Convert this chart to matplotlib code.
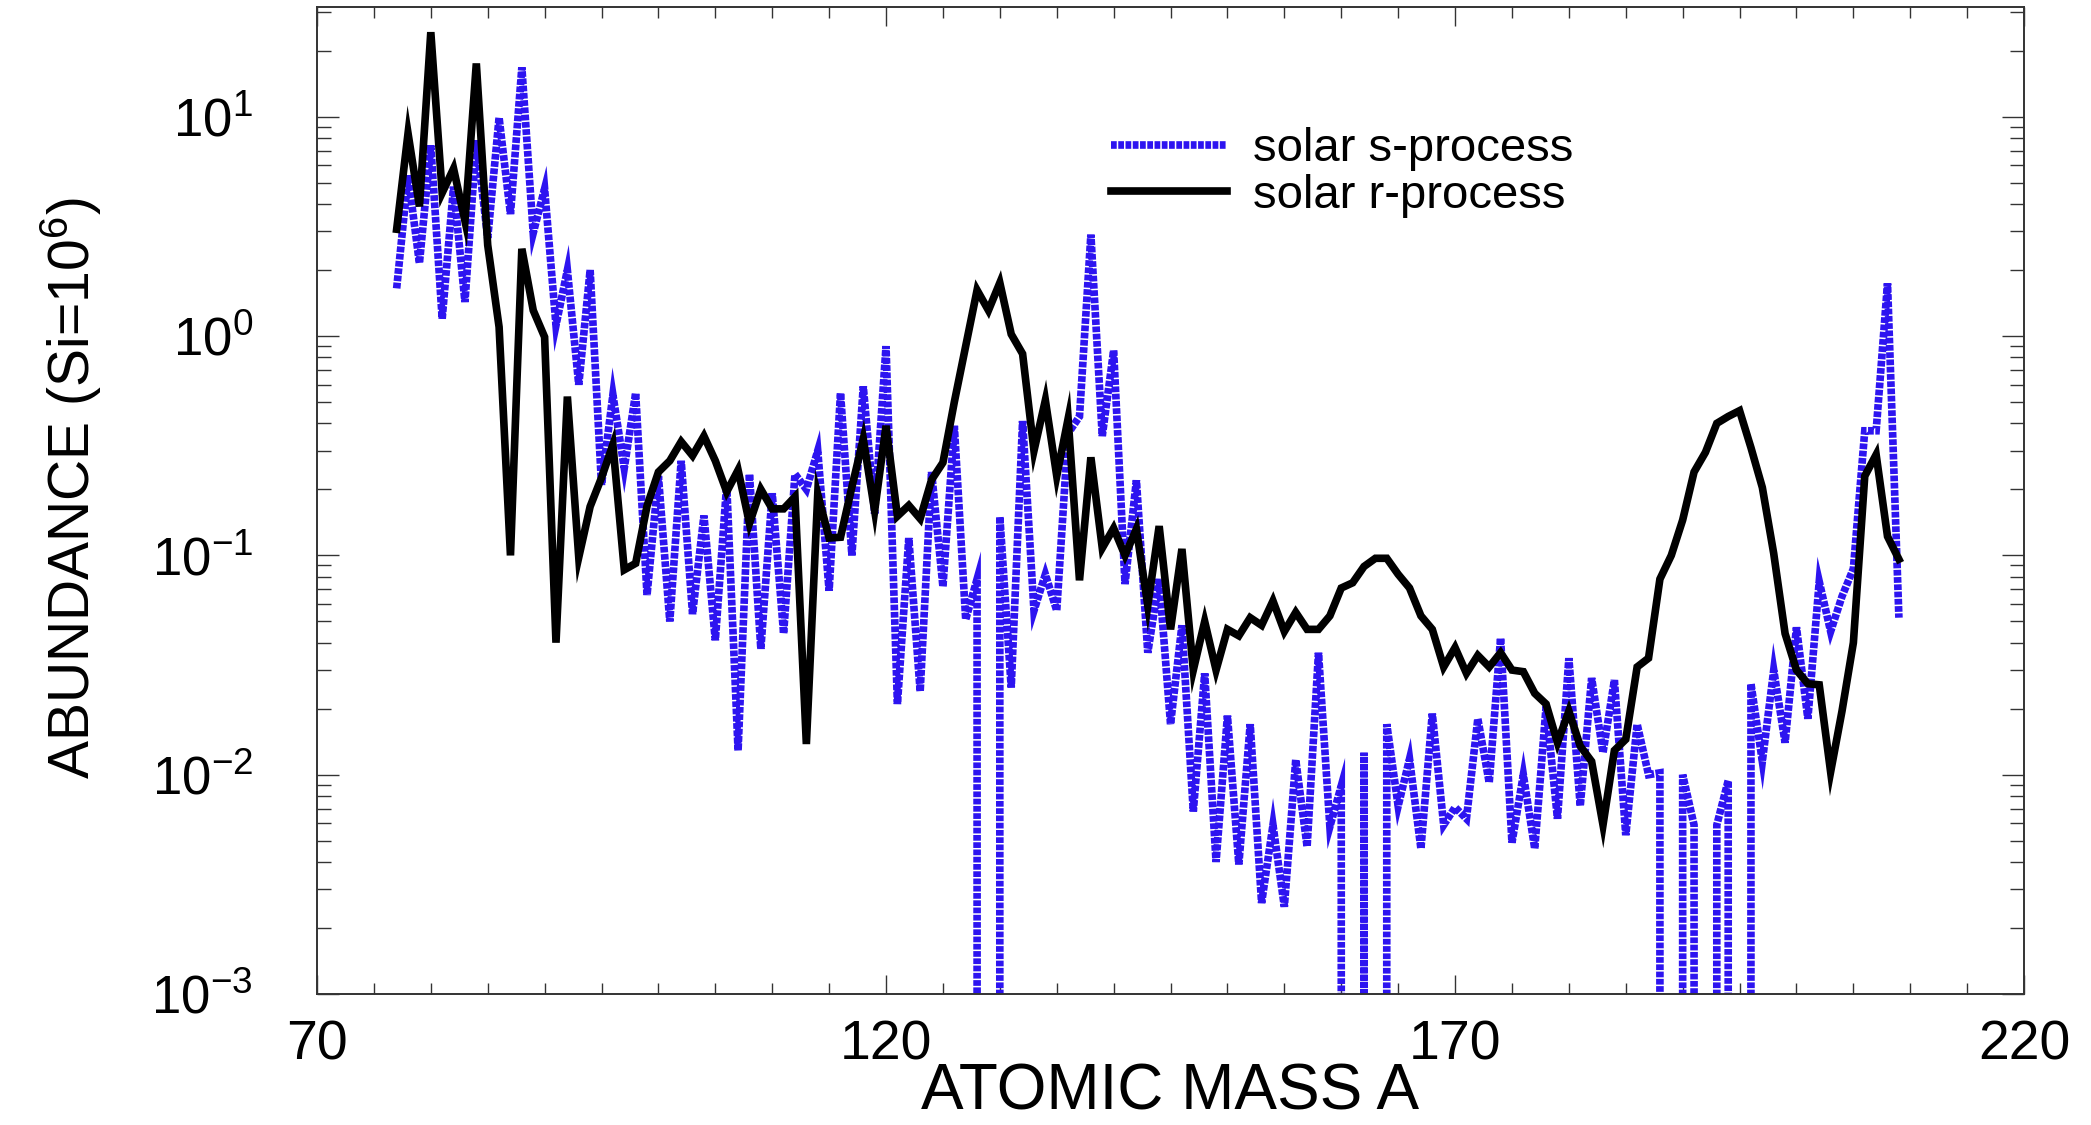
import matplotlib
matplotlib.use("Agg")
import matplotlib.pyplot as plt
from matplotlib.ticker import LogLocator, MultipleLocator, FixedLocator

plt.rcParams['font.family'] = ['Liberation Sans', 'DejaVu Sans']
plt.rcParams['mathtext.fontset'] = 'custom'
plt.rcParams['mathtext.rm'] = 'Liberation Sans'
plt.rcParams['mathtext.it'] = 'Liberation Sans'
plt.rcParams['mathtext.default'] = 'regular'

# mass numbers covered by both distributions
mass = list(range(77, 210))

# solar s-process abundances (Si = 1e6), zero where there is no s-only contribution
s_abund = [
    1.65, 5.4, 2.15, 7.4, 1.2, 4.8, 1.43, 7.8, 2.8, 9.9,          # 77-86
    3.6, 16.8, 2.95, 4.7, 1.12, 2.0, 0.60, 2.0, 0.21, 0.54,       # 87-96
    0.25, 0.55, 0.066, 0.23, 0.05, 0.27, 0.054, 0.152, 0.041, 0.21,  # 97-106
    0.0129, 0.235, 0.0375, 0.192, 0.044, 0.235, 0.20, 0.30, 0.069, 0.55,  # 107-116
    0.10, 0.59, 0.155, 0.90, 0.021, 0.12, 0.024, 0.24, 0.072, 0.39,  # 117-126
    0.051, 0.078, 0.0, 0.15, 0.025, 0.41, 0.056, 0.082, 0.056, 0.36,  # 127-136
    0.43, 2.9, 0.35, 0.86, 0.074, 0.22, 0.036, 0.078, 0.017, 0.048,  # 137-146
    0.0068, 0.029, 0.0040, 0.0186, 0.0039, 0.017, 0.0026, 0.0059, 0.0025, 0.0117,  # 147-156
    0.0047, 0.036, 0.0058, 0.0089, 0.0, 0.0126, 0.0, 0.017, 0.0072, 0.0118,  # 157-166
    0.0046, 0.019, 0.0059, 0.0071, 0.0063, 0.018, 0.0092, 0.042, 0.0049, 0.0100,  # 167-176
    0.0046, 0.0205, 0.0063, 0.034, 0.0072, 0.0276, 0.0126, 0.027, 0.0053, 0.017,  # 177-186
    0.0100, 0.0102, 0.0, 0.0100, 0.0059, 0.0, 0.0059, 0.0094, 0.0, 0.026,  # 187-196
    0.0115, 0.030, 0.014, 0.047, 0.018, 0.076, 0.045, 0.065, 0.087, 0.37,  # 197-206
    0.37, 1.74, 0.052,                                             # 207-209
]

# solar r-process abundances (Si = 1e6)
r_abund = [
    3.07, 8.4, 3.9, 24.3, 4.5, 5.8, 3.35, 17.5, 2.6, 1.1,          # 77-86
    0.10, 2.5, 1.31, 0.99, 0.040, 0.53, 0.098, 0.167, 0.226, 0.32,  # 87-96
    0.086, 0.092, 0.168, 0.24, 0.27, 0.33, 0.285, 0.35, 0.27, 0.195,  # 97-106
    0.245, 0.14, 0.20, 0.163, 0.163, 0.185, 0.0138, 0.19, 0.12, 0.121,  # 107-116
    0.205, 0.34, 0.16, 0.39, 0.151, 0.169, 0.147, 0.221, 0.265, 0.50,  # 117-126
    0.90, 1.62, 1.31, 1.75, 1.02, 0.83, 0.30, 0.51, 0.23, 0.42,   # 127-136
    0.077, 0.28, 0.108, 0.133, 0.10, 0.132, 0.059, 0.136, 0.046, 0.107,  # 137-146
    0.030, 0.050, 0.030, 0.046, 0.043, 0.052, 0.048, 0.062, 0.045, 0.055,  # 147-156
    0.046, 0.046, 0.053, 0.071, 0.075, 0.089, 0.097, 0.097, 0.082, 0.071,  # 157-166
    0.053, 0.046, 0.031, 0.038, 0.029, 0.035, 0.031, 0.036, 0.030, 0.0295,  # 167-176
    0.0235, 0.021, 0.014, 0.0195, 0.0135, 0.0115, 0.0059, 0.0129, 0.0145, 0.031,  # 177-186
    0.034, 0.078, 0.100, 0.145, 0.24, 0.295, 0.40, 0.43, 0.457, 0.31,  # 187-196
    0.204, 0.102, 0.044, 0.030, 0.026, 0.0257, 0.0103, 0.0195, 0.040, 0.23,  # 197-206
    0.288, 0.122, 0.096,                                           # 207-209
]

x_major = [70, 120, 170, 220]

fig = plt.figure(figsize=(20.91, 11.25), dpi=100)
ax = fig.add_axes([0.1516, 0.1164, 0.8164, 0.8773])

ax.plot(mass, s_abund, color='#2d14f0', lw=5.5, linestyle=(0, (0.75, 0.2)),
        dash_capstyle='butt', dash_joinstyle='miter', label='solar s-process')
ax.plot(mass, r_abund, color='black', lw=5.5, solid_joinstyle='miter',
        label='solar r-process')

ax.set_yscale('log', nonpositive='clip')
ax.set_xlim(70, 220)
ax.set_ylim(1e-3, 10 ** 1.5)

ax.xaxis.set_major_locator(FixedLocator(x_major))
ax.xaxis.set_minor_locator(MultipleLocator(5))
ax.yaxis.set_major_locator(LogLocator(base=10, numticks=10))
ax.yaxis.set_minor_locator(LogLocator(base=10, subs=range(2, 10), numticks=50))

ax.tick_params(which='both', direction='in', top=True, right=True, width=1.0, color='#333333')
ax.tick_params(axis='x', which='major', length=14, pad=18, labelsize=40)
ax.tick_params(axis='x', which='minor', length=8)
ax.tick_params(axis='y', which='major', length=16, pad=46, labelsize=38)
ax.tick_params(axis='y', which='minor', length=10)

for sp in ax.spines.values():
    sp.set_linewidth(1.4)
    sp.set_color('#333333')

ax.set_xlabel('ATOMIC MASS A', fontsize=46)
ax.xaxis.set_label_coords(0.5, -0.069)
ax.set_ylabel('ABUNDANCE (Si=10$^6$)', fontsize=41)
ax.yaxis.set_label_coords(-0.125, 0.513)

ax.legend(loc='upper left', bbox_to_anchor=(0.465, 0.878), frameon=False,
          fontsize=34, handlelength=2.46, handletextpad=0.55, borderpad=0,
          borderaxespad=0, labelspacing=0.05)

fig.savefig('out.png', dpi=100)
